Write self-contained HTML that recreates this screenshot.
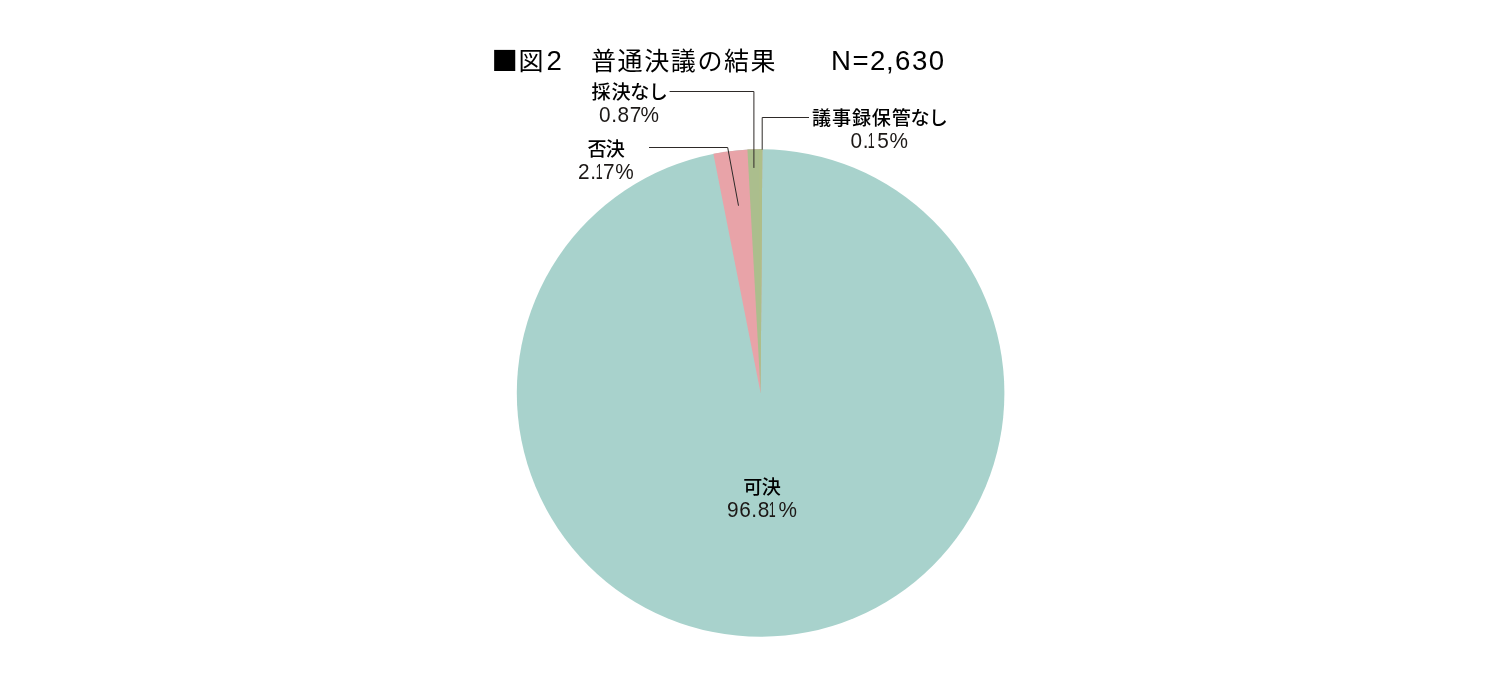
<!DOCTYPE html>
<html lang="ja">
<head>
<meta charset="utf-8">
<title>図2 普通決議の結果</title>
<style>
html,body{margin:0;padding:0;background:#fff;}
body{width:1497px;height:697px;position:relative;overflow:hidden;
  font-family:"Liberation Sans","Noto Sans CJK JP",sans-serif;color:#000;}
svg{position:absolute;left:0;top:0;}
.t{position:absolute;white-space:nowrap;line-height:1;margin:0;padding:0;}
.j{font-family:"Noto Sans CJK JP","Liberation Sans",sans-serif;font-weight:300;}
.l{font-family:"Liberation Sans","Noto Sans CJK JP",sans-serif;font-weight:300;}
.title.j{font-size:25px;letter-spacing:1.6px;font-weight:400;}
.title.l{font-size:27.6px;letter-spacing:1.5px;}
.lab.j{font-size:19.1px;letter-spacing:0.8px;font-weight:500;}
.k{margin-left:-1.2px;letter-spacing:-0.6px;}
.pc{margin-left:-1.4px;}
.one{display:inline-block;transform:scaleX(.6);transform-origin:100% 50%;margin-left:-6px;margin-right:0.4px;}
.lab.l{font-size:20.8px;letter-spacing:0.6px;color:#1c1816;transform:scaleY(1.07);transform-origin:0 84.6%;}
</style>
</head>
<body>
<svg width="1497" height="697" viewBox="0 0 1497 697">
  <circle cx="760.6" cy="393.0" r="243.8" fill="#a8d2cc"/>
  <path id="w-hiketsu" d="M760.6,393.0 L762.30,149.21 A243.8,243.8 0 0 0 713.37,153.82 Z" fill="#e8a3a8"/>
  <path id="w-nashi" d="M760.6,393.0 L762.30,149.21 A243.8,243.8 0 0 0 747.42,149.56 Z" fill="#abbe8d"/>
  <path id="w-giji" d="M760.6,393.0 L762.30,149.21 A243.8,243.8 0 0 0 759.32,149.20 Z" fill="#afbf88"/>
  <g fill="none" stroke="#2e2a28" stroke-width="1">
    <polyline points="669.6,91.5 753.9,91.5 753.9,167.9"/>
    <polyline points="809,117.5 762.2,117.5 762.2,149.6"/>
    <polyline points="649,147.5 727.7,147.5 738.5,205.7"/>
  </g>
</svg>
<div class="hd">
<div class="t title j" id="t0" style="left:491.4px;top:46.2px;font-size:26.4px;">■</div>
<div class="t title j" id="t1" style="left:518.6px;top:47px;">図</div>
<div class="t title l" id="t2" style="left:546.5px;top:47.4px;">2</div>
<div class="t title j" id="t3" style="left:591px;top:47px;">普通決議の結果</div>
<div class="t title l" id="t4" style="left:831px;top:47.4px;">N=<span style="letter-spacing:0.5px">2</span>,630</div>
</div>

<div class="t lab j" id="a1" style="left:591.6px;top:82px;">採決<span class="k">なし</span></div>
<div class="t lab l" id="a2" style="left:599px;top:104.6px;">0.87<span class="pc">%</span></div>
<div class="t lab j" id="b1" style="left:587.4px;top:138.6px;letter-spacing:-0.7px;">否決</div>
<div class="t lab l" id="b2" style="left:578px;top:161.6px;">2.<span class="one">1</span>7%</div>
<div class="t lab j" id="c1" style="left:812.1px;top:107.6px;">議事録保管<span class="k">なし</span></div>
<div class="t lab l" id="c2" style="left:850.5px;top:130.5px;">0.<span class="one" style="margin-right:2px">1</span>5%</div>
<div class="t lab j" id="d1" style="left:743.3px;top:476.6px;letter-spacing:-0.7px;">可決</div>
<div class="t lab l" id="d2" style="left:727px;top:500px;">96.8<span class="one">1</span><span style="margin-left:2px">%</span></div>
</body>
</html>
